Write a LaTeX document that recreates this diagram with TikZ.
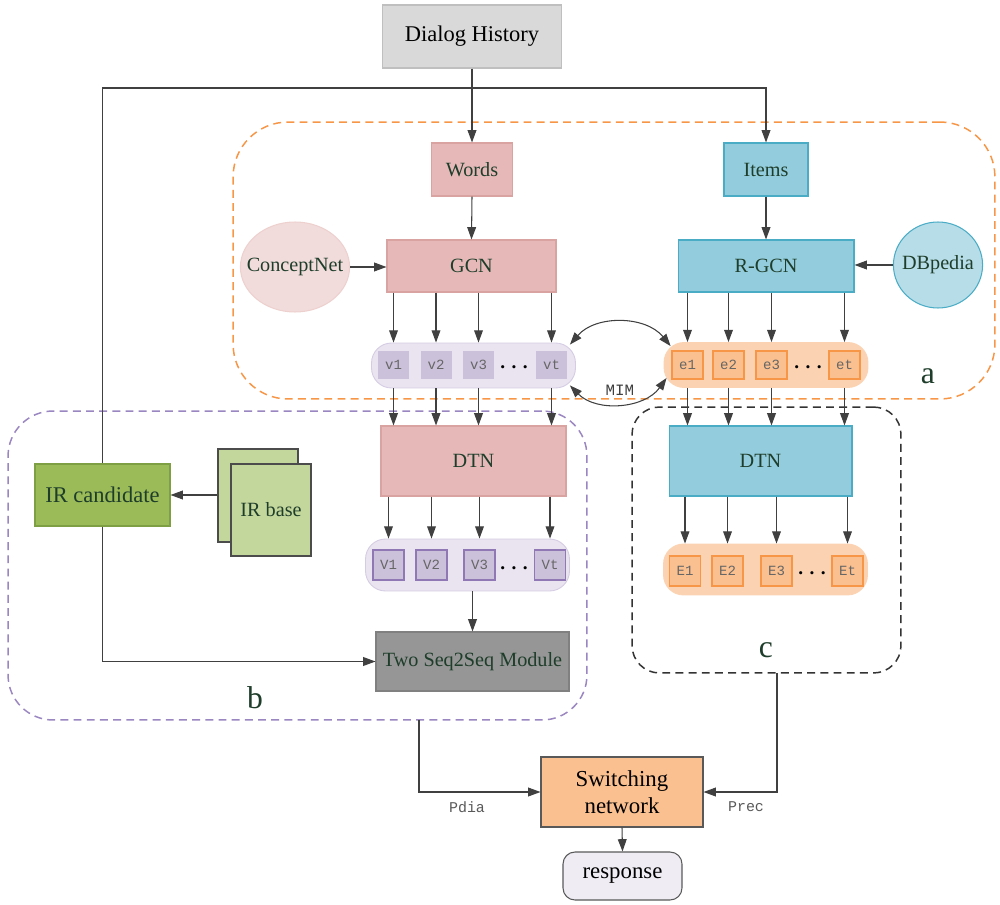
\documentclass[tikz,border=0pt]{standalone}
\usepackage{fontspec}
\setmainfont{Liberation Serif}
\setmonofont{Liberation Mono}
\usetikzlibrary{arrows.meta,shapes.geometric}

\definecolor{txtgreen}{HTML}{1E3D2A}
\definecolor{linegray}{HTML}{404040}
\definecolor{pinkfill}{HTML}{E6B9B8}
\definecolor{pinkline}{HTML}{D9A3A1}
\definecolor{pinklight}{HTML}{F2DCDB}
\definecolor{tealfill}{HTML}{93CDDD}
\definecolor{tealline}{HTML}{4BACC6}
\definecolor{teallight}{HTML}{B7DEE8}
\definecolor{lavfill}{HTML}{E9E4F0}
\definecolor{lavline}{HTML}{D5CCE3}
\definecolor{vcellfill}{HTML}{CCC1DA}
\definecolor{vcellline}{HTML}{8F78B3}
\definecolor{orfill}{HTML}{FBD3B3}
\definecolor{orcell}{HTML}{FAC090}
\definecolor{orline}{HTML}{F79646}
\definecolor{greenfill}{HTML}{9BBB59}
\definecolor{greenline}{HTML}{7F9F45}
\definecolor{greenlight}{HTML}{C3D69B}
\definecolor{purpdash}{HTML}{9A86C0}

\tikzset{
  arr/.style={draw=linegray, line width=0.6pt, -{Triangle[length=7pt,width=5pt]}},
  dblarr/.style={draw=linegray, line width=0.6pt, {Triangle[length=7pt,width=5pt]}-{Triangle[length=7pt,width=5pt]}},
  link/.style={draw=linegray, line width=0.6pt},
  box/.style={rectangle, line width=0.6pt, text=txtgreen, inner sep=0pt,
    font=\fontsize{11.5}{13}\selectfont},
  pinkbox/.style={box, fill=pinkfill, draw=pinkline},
  tealbox/.style={box, fill=tealfill, draw=tealline},
  kgnode/.style={box, ellipse, inner ysep=0pt},
  rowbox/.style={rectangle, rounded corners=0.4cm, line width=0.5pt, inner sep=0pt,
    minimum width=4.08cm, minimum height=0.9cm},
  vrowbox/.style={rowbox, fill=lavfill, draw=lavline},
  erowbox/.style={rowbox, fill=orfill, draw=orfill},
  cell/.style={rectangle, inner sep=0pt, minimum width=0.62cm, minimum height=0.56cm,
    line width=0.6pt, text=black!60, font=\ttfamily\fontsize{8}{9}\selectfont},
  vcell/.style={cell, fill=vcellfill},
  Vcell/.style={cell, fill=vcellfill, draw=vcellline},
  ecell/.style={cell, fill=orcell, draw=orline},
  dots/.style={font=\bfseries\fontsize{11}{12}\selectfont},
  region/.style={rectangle, line width=0.85pt, dash pattern=on 4.5pt off 3pt, inner sep=0pt},
  reglabel/.style={text=txtgreen, font=\fontsize{18}{20}\selectfont},
  plabel/.style={text=black!65, font=\ttfamily\fontsize{8.5}{10}\selectfont}
}

\begin{document}
\begin{tikzpicture}[x=0.02cm,y=-0.02cm]

   \useasboundingbox (0,0) rectangle (1000,905);

   % dashed regions a, b, c
   \node (rega) at (614,260.5) [region, draw=orline, rounded corners=1.1cm,
     minimum width=15.24cm, minimum height=5.54cm] {};
   \node (regb) at (297.5,565.5) [region, draw=purpdash, rounded corners=0.9cm,
     minimum width=11.58cm, minimum height=6.18cm] {};
   \node (regc) at (766.5,540) [region, draw=black!80, rounded corners=0.55cm,
     minimum width=5.38cm, minimum height=5.32cm] {};
   \node (lbla) at (928,376) [reglabel] {a};
   \node (lblb) at (255,698) [reglabel] {b};
   \node (lblc) at (766,650) [reglabel] {c};

   \node (dialog) at (472,36.5) [box, fill=black!15, draw=black!25, text=black,
     minimum width=3.58cm, minimum height=1.26cm, font=\fontsize{12.8}{14}\selectfont] {Dialog History};
   \coordinate (hub) at (472,88);

   \node (words) at (472,169.5) [pinkbox, minimum width=1.62cm, minimum height=1.06cm] {Words};
   \node (items) at (766,169.5) [tealbox, minimum width=1.68cm, minimum height=1.06cm] {Items};

   \node (gcn) at (471.5,266) [pinkbox, minimum width=3.38cm, minimum height=1.04cm] {GCN};
   \node (rgcn) at (766,266) [tealbox, minimum width=3.52cm, minimum height=1.04cm] {R-GCN};

   \node (concept) at (295,267) [kgnode, inner xsep=-5.5pt, fill=pinklight, draw=pinklight!80!pinkline,
     minimum height=1.8cm] {ConceptNet};
   \node (dbpedia) at (938,265) [kgnode, inner xsep=-2.5pt, fill=teallight, draw=tealline,
     minimum height=1.72cm] {DBpedia};

   % word embeddings
   \node (vrow) at (473.5,365.5) [vrowbox] {};
   \node (v1) at (393.5,365) [vcell] {v1};
   \node (v2) at (436,365) [vcell] {v2};
   \node (v3) at (478.5,365) [vcell] {v3};
   \node (vdots) at (514,367) [dots] {.\,\,.\,\,.};
   \node (vt) at (551.5,365) [vcell] {vt};

   % item embeddings
   \node (erow) at (766,365) [erowbox] {};
   \node (e1) at (687.5,365) [ecell] {e1};
   \node (e2) at (728.5,365) [ecell] {e2};
   \node (e3) at (771.5,365) [ecell] {e3};
   \node (edots) at (808,367) [dots] {.\,\,.\,\,.};
   \node (et) at (844.5,365) [ecell] {et};

   \node (dtnv) at (473.5,461) [pinkbox, minimum width=3.7cm, minimum height=1.4cm] {DTN};
   \node (dtne) at (760.5,461) [tealbox, minimum width=3.66cm, minimum height=1.4cm] {DTN};

   \node (Vrow) at (467.5,565) [vrowbox, minimum height=1.04cm] {};
   \node (V1) at (388.5,565) [Vcell, minimum height=0.6cm] {V1};
   \node (V2) at (431.5,565) [Vcell, minimum height=0.6cm] {V2};
   \node (V3) at (479.5,565) [Vcell, minimum height=0.6cm] {V3};
   \node (Vdots) at (514,568) [dots] {.\,\,.\,\,.};
   \node (Vt) at (550,565) [Vcell, minimum height=0.6cm] {Vt};

   \node (Erow) at (765.5,569.5) [erowbox, minimum height=1.02cm] {};
   \node (E1) at (685,571) [ecell, minimum height=0.6cm] {E1};
   \node (E2) at (727.5,571) [ecell, minimum height=0.6cm] {E2};
   \node (E3) at (776.5,571) [ecell, minimum height=0.6cm] {E3};
   \node (Edots) at (812,573) [dots] {.\,\,.\,\,.};
   \node (Et) at (847.5,571) [ecell, minimum height=0.6cm] {Et};

   \node (seq) at (472.5,661.5) [box, fill=black!41, draw=black!50,
     minimum width=3.86cm, minimum height=1.18cm] {Two Seq2Seq Module};

   \node (ircand) at (102.5,495) [box, fill=greenfill, draw=greenline,
     minimum width=2.7cm, minimum height=1.24cm, font=\fontsize{12.8}{14}\selectfont] {IR candidate};
   \node (irback) at (258,495.5) [box, fill=greenlight, draw=black!70,
     minimum width=1.6cm, minimum height=1.86cm] {};
   \node (irbase) at (271,510) [box, fill=greenlight, draw=black!70,
     minimum width=1.6cm, minimum height=1.84cm] {IR base};

   \node (switch) at (622,792) [box, fill=orcell, draw=black!65, text=black, align=center,
     minimum width=3.24cm, minimum height=1.4cm, font=\fontsize{13}{15.5}\selectfont] {Switching\\network};
   \node (response) at (622.5,876) [box, rounded corners=0.24cm, fill=lavfill!70!white, draw=black!65,
     text=black, minimum width=2.38cm, minimum height=0.96cm, font=\fontsize{13}{15}\selectfont] {response};

   \coordinate (pdia-start) at (419,720);
   \coordinate (prec-start) at (777,673);
   \node (pdia) at (467,807) [plabel] {Pdia};
   \node (prec) at (746,807) [plabel] {Prec};

   % connectors
   \draw [arr] (dialog.south) -- (words.north);
   \draw [arr] (hub) -| (items.north);
   \draw [link] (hub) -| (ircand.north);
   \draw [arr] (ircand.south) |- (seq.west);
   \draw [arr] (irback.west |- ircand.east) -- (ircand.east);

   \draw [arr] (words.south) -- (gcn.north);
   \draw [arr] (items.south) -- (rgcn.north);
   \draw [arr] (concept.east) -- (gcn.west |- concept.east);
   \draw [arr] (dbpedia.west) -- (rgcn.east |- dbpedia.west);

   \foreach \v in {v1,v2,v3,vt} {
     \draw [arr] (gcn.south -| \v) -- (\v |- vrow.north);
     \draw [arr] (\v |- vrow.south) -- (\v |- dtnv.north);
   }
   \foreach \e in {e1,e2,e3,et} {
     \draw [arr] (rgcn.south -| \e) -- (\e |- erow.north);
     \draw [arr] (\e |- erow.south) -- (\e |- dtne.north);
   }
   \foreach \v in {V1,V2,V3,Vt}
     \draw [arr] (dtnv.south -| \v) -- (\v |- Vrow.north);
   \foreach \e in {E1,E2,E3,Et}
     \draw [arr] (dtne.south -| \e) -- (\e |- Erow.north);

   \draw [arr] (Vrow.south -| seq) -- (seq.north);

   \draw [dblarr] ([xshift=-0.12cm,yshift=-0.04cm]vrow.north east) to[bend left=50] ([xshift=0.14cm,yshift=-0.08cm]erow.north west);
   \draw [dblarr] ([xshift=-0.12cm,yshift=0.06cm]vrow.south east) to[bend right=50]
     node [above=1pt, text=black!75, font=\ttfamily\fontsize{9}{10}\selectfont] {MIM}
     ([xshift=0.06cm,yshift=0.2cm]erow.south west);

   \draw [arr] (pdia-start) |- (switch.west);
   \draw [arr] (prec-start) |- (switch.east);
   \draw [arr] (switch.south) -- (response.north);

\end{tikzpicture}
\end{document}
